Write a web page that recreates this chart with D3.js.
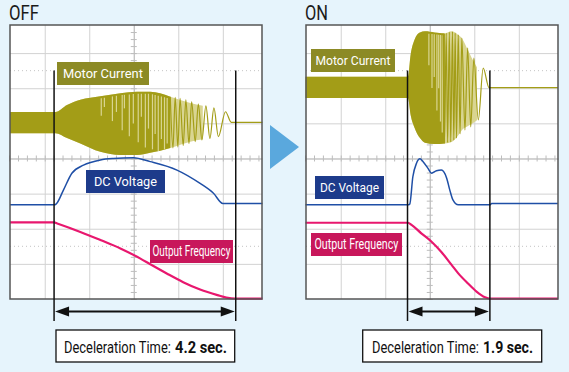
<!DOCTYPE html>
<html>
<head>
<meta charset="utf-8">
<script src="https://cdn.jsdelivr.net/npm/d3@7"></script>
<style>
body { margin: 0; background: #e6f4fc; }
svg { display: block; }
</style>
</head>
<body>
<div id="chart"></div>
<script>
// time in scope divisions (about 1 s/div), values in vertical divisions
const panelTitles = ["OFF", "ON"];
const decelTimes = ["4.2 sec.", "1.9 sec."];
const traceNames = ["Motor Current", "DC Voltage", "Output Frequency"];

// motor current envelope: [t, upper, lower]
const currentEnvOff = [[-2.78,1.32,0.72],[-1.76,1.32,0.72],[-1.50,1.52,0.58],[-1.20,1.67,0.43],[-0.75,1.77,0.19],
  [-0.30,1.86,0.10],[0.07,1.90,0.10],[0.37,1.90,0.16],[0.82,1.76,0.30],[1.27,1.58,0.48],[1.55,1.50,0.55]];
const currentEnvOn = [[-2.79,2.33,1.72],[-0.49,2.33,1.72],[-0.43,2.95,1.24],[-0.34,3.39,0.87],[-0.22,3.59,0.58],
  [-0.11,3.62,0.45],[0.11,3.59,0.41],[0.34,3.56,0.43],[0.49,3.62,0.47],[0.63,3.53,0.64],[0.74,3.39,0.83],
  [0.85,3.10,0.92],[0.94,2.87,0.98],[1.06,2.60,1.09]];
// visible oscillation peaks of motor current
const currentWaveOff = [[0.82,1.76],[0.88,0.30],[0.93,1.74],[0.99,0.33],[1.04,1.71],[1.11,0.37],[1.17,1.67],
  [1.24,0.43],[1.30,1.61],[1.38,0.48],[1.45,1.55],[1.53,0.53],[1.62,1.50],[1.71,0.57],[1.80,1.44],[1.90,0.62],
  [2.06,1.33],[2.19,1.03],[2.89,1.03]];
const currentWaveOn = [[0.30,3.56],[0.33,0.44],[0.37,3.57],[0.40,0.45],[0.44,3.60],[0.47,0.47],[0.51,3.61],
  [0.54,0.52],[0.57,3.57],[0.60,0.58],[0.64,3.52],[0.68,0.70],[0.72,3.43],[0.79,0.81],[0.85,3.15],[0.92,0.90],
  [0.99,2.86],[1.09,1.10],[1.20,2.57],[1.33,2.02],[2.88,2.02]];
// light streaks in the dense part: [t, fraction of band]
const streaksOff = [[-0.73,0.35],[-0.66,0.2],[-0.48,0.45],[-0.39,0.3],[-0.26,0.6],[-0.21,0.25],[-0.10,0.7],
  [-0.01,0.5],[0.10,0.8],[0.17,0.4],[0.26,0.9],[0.33,0.6],[0.42,0.95],[0.48,0.7],[0.55,1],[0.62,0.8],[0.69,1],[0.75,0.9]];
const streaksOn = [[-0.02,0.3],[0.05,0.5],[0.10,0.4],[0.16,0.7],[0.20,0.5],[0.24,0.8],[0.28,0.9]];

const dcOff = [[-2.78,-1.32],[-1.79,-1.32],[-1.74,-1.29],[-1.58,-0.90],[-1.39,-0.42],[-1.13,-0.19],[-0.75,-0.04],
  [-0.46,0.0],[-0.01,0.02],[0.37,-0.09],[0.97,-0.33],[1.49,-0.71],[1.79,-0.99],[2.0,-1.28],[2.89,-1.28]];
const dcOn = [[-2.79,-1.32],[-0.49,-1.32],[-0.45,-1.30],[-0.38,-0.52],[-0.30,-0.14],[-0.22,-0.01],[-0.15,-0.09],
  [-0.04,-0.28],[0.04,-0.42],[0.15,-0.35],[0.26,-0.33],[0.38,-0.56],[0.45,-0.90],[0.52,-1.18],[0.64,-1.32],
  [1.35,-1.32],[1.39,-1.28],[2.88,-1.28]];

const freqOff = [[-2.78,-1.82],[-1.79,-1.82],[-1.72,-1.85],[-1.20,-2.09],[-0.75,-2.32],[-0.30,-2.56],[0.15,-2.85],
  [0.37,-3.01],[0.75,-3.28],[1.11,-3.52],[1.49,-3.73],[1.88,-3.89],[2.08,-3.96],[2.28,-3.99],[2.89,-3.99]];
const freqOn = [[-2.79,-1.83],[-0.49,-1.83],[-0.41,-1.89],[-0.19,-2.13],[0.04,-2.37],[0.26,-2.66],[0.49,-3.03],
  [0.64,-3.27],[0.86,-3.56],[1.05,-3.79],[1.24,-3.95],[1.35,-3.99],[2.88,-3.99]];

const markersOff = [-1.79, 2.29];
const markersOn = [-0.50, 1.35];

const xGrid = [-2, -1, 0, 1, 2];
const yGrid = [-3, -2, -1, 0, 1, 2, 3];
const cursorLevels = [2.5, -2.5];

const width = 569, height = 372;
const svg = d3.select("#chart").append("svg").attr("width", width).attr("height", height);
svg.append("rect").attr("width", width).attr("height", height).attr("fill", "#e6f4fc");

const y = d3.scaleLinear().domain([-4, 3.8]).range([299, 25]);
const font = "Roboto, sans-serif";

// squeeze a text horizontally so it spans w pixels from x
function fitText(sel, x, yPos, w) {
  const natural = sel.node().getComputedTextLength();
  sel.attr("transform", `translate(${x},${yPos}) scale(${w / natural},1)`);
}

const panels = [
  { i: 0, left: 10, env: currentEnvOff, wave: currentWaveOff, streaks: streaksOff, denseEnd: 0.82, lightEnd: 1.55,
    dc: dcOff, freq: freqOff, markers: markersOff, box: [56, 234.7], titleLen: 30,
    decel: [64, 107, 175, 52],
    labels: [[57, 62, 92, 23, 80], [86, 170, 79, 23, 63], [150, 240, 83, 23, 78]] },
  { i: 1, left: 306, env: currentEnvOn, wave: currentWaveOn, streaks: streaksOn, denseEnd: 0.30, lightEnd: 1.06,
    dc: dcOn, freq: freqOn, markers: markersOn, box: [362.7, 541.7], titleLen: 23,
    decel: [372, 107, 483, 50],
    labels: [[311, 49, 84, 23, 75], [315, 176, 69, 23, 59], [311, 233, 91, 23, 84]] }
];

const dark = "#a39d17", light = "#d9d591";
const labelColors = ["#8c8a25", "#1d3b8b", "#c8175b"];

panels.forEach(p => {
  const x = d3.scaleLinear().domain([-2.78, 2.88]).range([p.left, p.left + 252]);
  const g = svg.append("g");

  const title = svg.append("text")
    .style("font-family", font).style("font-size", "20px").attr("fill", "#1a1a1a")
    .text(panelTitles[p.i]);
  fitText(title, p.left - 1, 20, p.titleLen);

  g.append("rect").attr("x", p.left).attr("y", 25).attr("width", 252).attr("height", 274).attr("fill", "#fff");

  // grid
  g.append("g").attr("transform", `translate(0,${y(-4)})`)
    .call(d3.axisBottom(x).tickValues(xGrid).tickSize(-274).tickFormat(""))
    .call(a => a.select(".domain").remove())
    .selectAll("line").attr("stroke", "#d2d2d2");
  g.append("g").attr("transform", `translate(${p.left},0)`)
    .call(d3.axisLeft(y).tickValues(yGrid).tickSize(-252).tickFormat(""))
    .call(a => a.select(".domain").remove())
    .selectAll("line").attr("stroke", "#d2d2d2");
  cursorLevels.forEach(v => {
    g.append("line").attr("x1", p.left).attr("x2", p.left + 252).attr("y1", y(v)).attr("y2", y(v))
      .attr("stroke", "#c4c4c4").attr("stroke-dasharray", "1,3");
  });
  // minor ticks on centre lines
  g.append("g").attr("transform", `translate(0,${y(0)})`)
    .call(d3.axisBottom(x).tickValues(d3.range(-2.8, 2.9, 0.2)).tickSize(0).tickSizeInner(3).tickFormat(""))
    .call(a => a.select(".domain").attr("stroke", "#bdbdbd"))
    .selectAll("line").attr("stroke", "#bdbdbd").attr("y1", -3);
  g.append("g").attr("transform", `translate(${x(0)},0)`)
    .call(d3.axisLeft(y).tickValues(d3.range(-4, 3.8, 0.2)).tickSize(0).tickSizeInner(3).tickFormat(""))
    .call(a => a.select(".domain").attr("stroke", "#bdbdbd"))
    .selectAll("line").attr("stroke", "#bdbdbd").attr("x1", 3);

  // motor current
  const area = d3.area().x(d => x(d[0])).y0(d => y(d[2])).y1(d => y(d[1])).curve(d3.curveMonotoneX);
  g.append("path").datum(p.env.filter(d => d[0] <= p.lightEnd)).attr("d", area).attr("fill", light);
  g.append("path").datum(p.env.filter(d => d[0] <= p.denseEnd + 0.05)).attr("d", area).attr("fill", dark);
  const up = d3.scaleLinear().domain(p.env.map(d => d[0])).range(p.env.map(d => d[1]));
  const lo = d3.scaleLinear().domain(p.env.map(d => d[0])).range(p.env.map(d => d[2]));
  g.selectAll(".streak").data(p.streaks).join("line")
    .attr("x1", d => x(d[0])).attr("x2", d => x(d[0]))
    .attr("y1", d => y(up(d[0])) + 2)
    .attr("y2", d => y(up(d[0])) + (y(lo(d[0])) - y(up(d[0]))) * d[1])
    .attr("stroke", light).attr("stroke-width", 1.2);
  const line = d3.line().x(d => x(d[0])).y(d => y(d[1])).curve(d3.curveMonotoneX);
  g.append("path").datum(p.wave).attr("d", line).attr("fill", "none")
    .attr("stroke", dark).attr("stroke-width", 1.2);

  // DC voltage and output frequency
  g.append("path").datum(p.dc).attr("d", line).attr("fill", "none")
    .attr("stroke", "#1f4fa6").attr("stroke-width", 1.5);
  g.append("path").datum(p.freq).attr("d", line).attr("fill", "none")
    .attr("stroke", "#e8176e").attr("stroke-width", 2.2);

  // trace labels
  p.labels.forEach((l, k) => {
    g.append("rect").attr("x", l[0]).attr("y", l[1]).attr("width", l[2]).attr("height", l[3])
      .attr("fill", labelColors[k]);
    const lt = g.append("text").attr("fill", "#fff")
      .style("font-family", font).style("font-size", k === 2 ? "14px" : "13px")
      .text(traceNames[k]);
    fitText(lt, l[0] + (l[2] - l[4]) / 2, l[1] + l[3] / 2 + 4.5, l[4]);
  });

  g.append("rect").attr("x", p.left).attr("y", 25).attr("width", 252).attr("height", 274)
    .attr("fill", "none").attr("stroke", "#555").attr("stroke-width", 1.5);

  // deceleration markers and arrow
  g.selectAll(".marker").data(p.markers).join("line")
    .attr("x1", d => x(d)).attr("x2", d => x(d)).attr("y1", 70.5).attr("y2", 321)
    .attr("stroke", "#111").attr("stroke-width", 1.5);
  const xa = x(p.markers[0]) + 1, xb = x(p.markers[1]) - 1, ya = 311.5;
  g.append("line").attr("x1", xa + 8).attr("x2", xb - 8).attr("y1", ya).attr("y2", ya)
    .attr("stroke", "#111").attr("stroke-width", 2);
  g.append("path").attr("d", `M${xa},${ya}L${xa + 14},${ya - 5}L${xa + 14},${ya + 5}Z`).attr("fill", "#111");
  g.append("path").attr("d", `M${xb},${ya}L${xb - 14},${ya - 5}L${xb - 14},${ya + 5}Z`).attr("fill", "#111");

  g.append("rect").attr("x", p.box[0]).attr("y", 330).attr("width", p.box[1] - p.box[0]).attr("height", 32)
    .attr("fill", "#fff").attr("stroke", "#111").attr("stroke-width", 1.3);
  const d1 = g.append("text").attr("fill", "#111")
    .style("font-family", font).style("font-size", "16px")
    .text("Deceleration Time:");
  fitText(d1, p.decel[0], 352.5, p.decel[1]);
  const d2 = g.append("text").attr("fill", "#111")
    .style("font-family", font).style("font-size", "16px").style("font-weight", "bold")
    .text(decelTimes[p.i]);
  fitText(d2, p.decel[2], 352.5, p.decel[3]);
});

// arrow between panels
svg.append("path").attr("d", "M270,125L299,147L270,169Z").attr("fill", "#5aa8dd");
</script>
</body>
</html>
